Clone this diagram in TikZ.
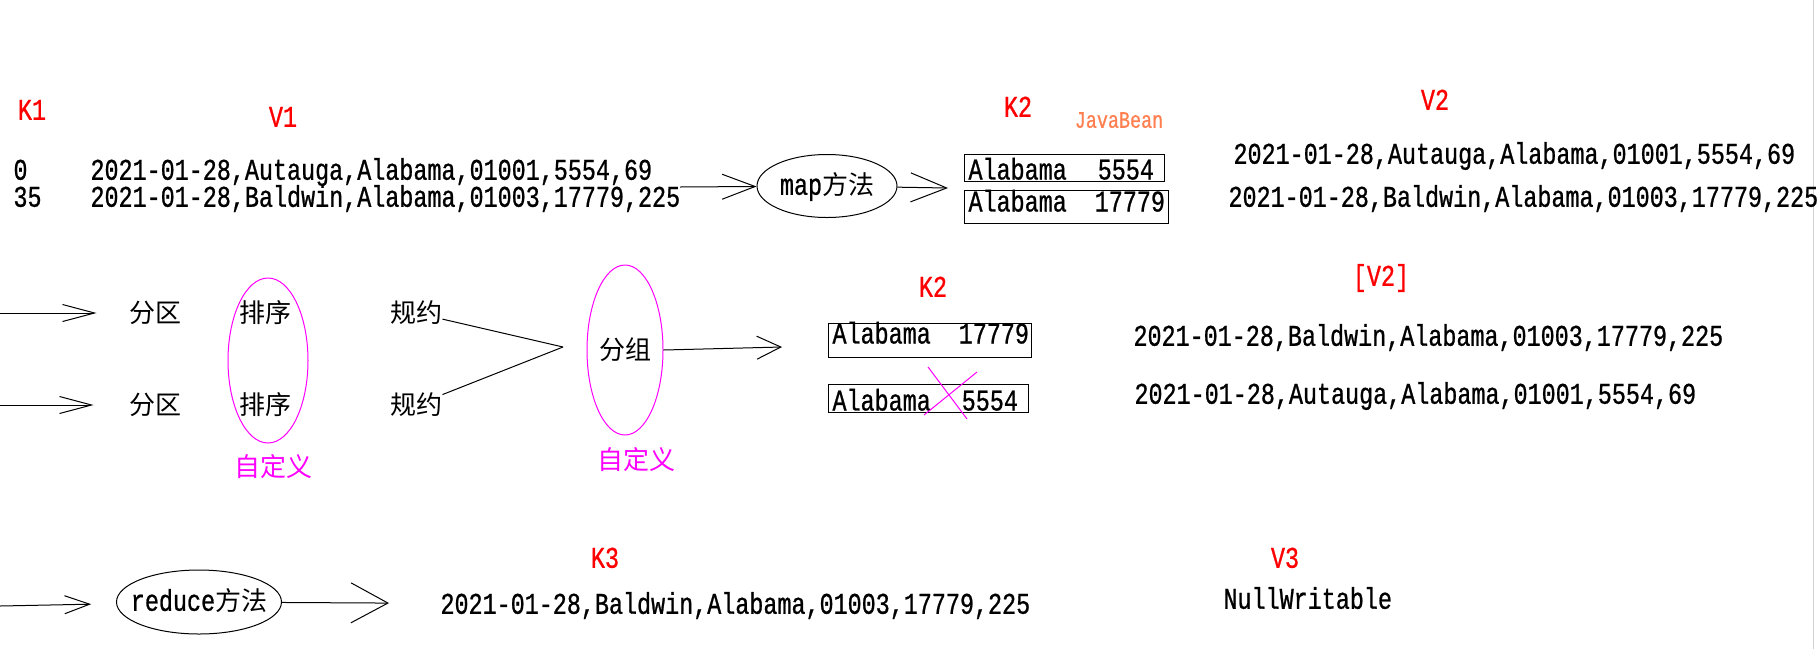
\documentclass[tikz,border=0pt]{standalone}
\usepackage{fontspec}
\usepackage{tikz}
\usetikzlibrary{arrows.meta}
\usetikzlibrary{shapes.geometric}
\usetikzlibrary{positioning}
\newfontfamily\codefont{Liberation Mono}[FakeStretch=0.78, FakeBold=0.8]
\newfontfamily\cjkfont{Noto Sans CJK SC}
\definecolor{keyred}{RGB}{255,0,0}
\definecolor{ownmag}{RGB}{255,0,255}
\definecolor{beanorange}{RGB}{255,127,80}
\newcommand{\zh}[1]{{\cjkfont\fontsize{26}{26}\selectfont #1}}
\newcommand{\kpair}[3]{\makebox[#1pt][l]{Alabama\hspace{#2pt}#3}}
\tikzset{flow/.style 2 args = {-{Straight Barb[length=#1pt, width=#2pt]}}}
\tikzset{txt/.style = {font=\codefont\fontsize{30}{30}\selectfont, inner sep=0, text height=17.5pt, text depth=0pt}}
\tikzset{row/.style = {txt, anchor=west}}
\tikzset{tag/.style = {txt, text=keyred}}
\tikzset{zhtxt/.style = {font=\cjkfont\fontsize{26}{26}\selectfont, inner sep=0}}
\tikzset{kbox/.style 2 args = {txt, draw, anchor=north west, inner xsep=4pt, inner ysep=0,
                               text height=#1pt, text depth=#2pt}}

\begin{document}
\begin{tikzpicture}[x=1pt, y=-1pt, line width=1pt]
    \useasboundingbox (0, 0) rectangle (1817, 649);
    \draw [gray!35] (1813, 0) -- (1813, 649);

    \node [tag] (k1) at (32, 111) {K1};
    \node [tag] (v1) at (283, 118) {V1};
    \node [row] (n0) at (13, 171) {0};
    \node [row] (n35) at (13, 198) {35};
    \node [row] (v1a) at (90, 171) {2021-01-28,Autauga,Alabama,01001,5554,69};
    \node [row] (v1b) at (90, 198) {2021-01-28,Baldwin,Alabama,01003,17779,225};
    \coordinate (mapin) at (680, 187);
    \node [txt, draw, ellipse, minimum width=140pt, minimum height=63pt] (map) at (827, 186) {map\zh{方法}};
    \coordinate (mapout) at (948, 188);
    \draw [flow={33}{25}] (mapin) -- (map);
    \draw [flow={36}{29}] (map) -- (mapout);
    \node [tag] (k2) at (1018, 108) {K2};
    \node [txt, text=beanorange, font=\codefont\fontsize{23.6}{24}\selectfont] (bean) at (1119, 119) {JavaBean};
    \node [kbox={25}{2}] (kb1) at (964, 154) {\kpair{192}{31}{5554}};
    \node [kbox={21}{12}] (kb2) at (964, 190) {\kpair{196}{28}{17779}};
    \node [tag] (v2) at (1435, 101) {V2};
    \node [row] (v2a) at (1233, 155) {2021-01-28,Autauga,Alabama,01001,5554,69};
    \node [row] (v2b) at (1228, 198) {2021-01-28,Baldwin,Alabama,01003,17779,225};

    \coordinate (pin1) at (0, 313);
    \coordinate (pin2) at (0, 405);
    \node [zhtxt] (fq1) at (155, 313) {分区};
    \node [zhtxt] (px1) at (265, 313) {排序};
    \node [zhtxt] (gy1) at (416, 313) {规约};
    \node [zhtxt] (fq2) at (155, 405) {分区};
    \node [zhtxt] (px2) at (265, 405) {排序};
    \node [zhtxt] (gy2) at (416, 405) {规约};
    \draw [flow={32}{17}, shorten >=32pt] (pin1) -- (fq1);
    \draw [flow={32}{17}, shorten >=35pt] (pin2) -- (fq2);
    \node [draw=ownmag, ellipse, minimum width=80pt, minimum height=165pt, inner sep=0] (sortring) at (268, 360.5) {};
    \node [zhtxt, text=ownmag] (zdy1) at (273, 467) {自定义};
    \coordinate (join) at (563, 347);
    \draw (gy1) -- (join);
    \draw (gy2) -- (join);
    \node [zhtxt, draw=ownmag, ellipse, minimum width=76pt, minimum height=170pt] (fz) at (625, 350) {分组};
    \node [zhtxt, text=ownmag] (zdy2) at (636, 460) {自定义};
    \coordinate (fzout) at (782, 347);
    \draw [flow={24}{23}] (fz.east) -- (fzout);
    \node [tag] (k2b) at (933, 288) {K2};
    \node [kbox={20}{14}] (kb3) at (828, 323) {\kpair{195}{28}{17779}};
    \node [kbox={26}{2}] (kb4) at (828, 384) {\kpair{192}{31}{5554}};
    \draw [ownmag] (928, 367) -- (967, 419);
    \draw [ownmag] (977, 372) -- (924, 415);
    \node [tag] (v2c) at (1381, 277) {[V2]};
    \node [row] (v2d) at (1133, 337) {2021-01-28,Baldwin,Alabama,01003,17779,225};
    \node [row] (v2e) at (1134, 395) {2021-01-28,Autauga,Alabama,01001,5554,69};

    \coordinate (rin) at (0, 606);
    \node [txt, draw, ellipse, minimum width=165pt, minimum height=64pt, inner xsep=-12pt] (reduce) at (199, 602) {reduce\zh{方法}};
    \draw [flow={25}{18}, shorten >=25pt] (rin) -- (reduce);
    \node [tag] (k3) at (605, 559) {K3};
    \node [row] (k3a) at (440, 605) {2021-01-28,Baldwin,Alabama,01003,17779,225};
    \draw [flow={37}{40}, shorten >=51pt] (reduce) -- (k3a);
    \node [tag] (v3) at (1285, 559) {V3};
    \node [row] (nullw) at (1223, 600) {NullWritable};
\end{tikzpicture}
\end{document}
